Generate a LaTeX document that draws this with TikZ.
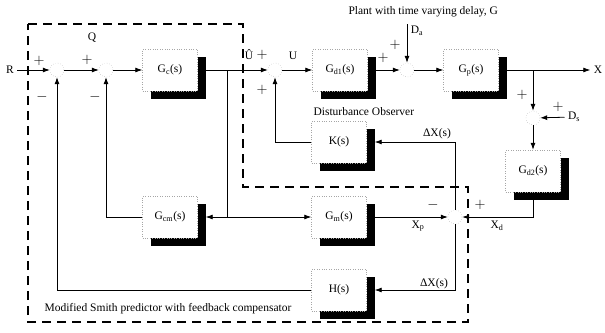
\documentclass[tikz,border=0pt]{standalone}
\usepackage{fontspec}
\setmainfont{Liberation Serif}
\usepackage{tikz}
\usetikzlibrary{arrows.meta,positioning,calc,shadows}

\begin{document}
\begin{tikzpicture}[x=1pt, y=-1pt,
  font=\fontsize{11.5}{13}\selectfont,
  tfblock/.style={rectangle, draw=black!35, dotted, fill=white, minimum width=55pt, minimum height=42pt, inner sep=0pt, drop shadow={shadow xshift=8pt, shadow yshift=-8pt, fill=black, opacity=1}},
  sumpt/.style={circle, draw=black!45, dotted, minimum size=14pt, inner sep=0pt},
  sgn/.style={font=\fontsize{15}{15}\selectfont, inner sep=0pt},
  sig/.style={-{Latex[length=7pt,width=5pt]}, line width=0.8pt},
  wire/.style={line width=0.8pt},
  bound/.style={line width=1.6pt, dash pattern=on 9pt off 6pt}
]
\useasboundingbox (0,0) rectangle (605,332);

% Smith predictor boundary
\draw[bound] (28,24) -- (243,24) -- (243,187) -- (468,187) -- (468,322) -- (28,322) -- cycle;

% Forward path
\node (rin) at (10,70) {R};
\node[sumpt] (s1) at (57,70) {};
\node[sumpt] (s2) at (106,70) {};
\node[tfblock] (gc) at (170,70) {G\textsubscript{c}(s)};
\node[sumpt] (s3) at (275,70) {};
\node[tfblock] (gd1) at (340,70) {G\textsubscript{d1}(s)};
\node[sumpt] (s4) at (407,70) {};
\node[tfblock] (gp) at (471,70) {G\textsubscript{p}(s)};
\node (xout) at (598,70) {X};

% Predictor, observer and compensator blocks
\node[tfblock] (k) at (339,142) {K(s)};
\node[tfblock] (gcm) at (170,217) {G\textsubscript{cm}(s)};
\node[tfblock] (gm) at (339,217) {G\textsubscript{m}(s)};
\node[tfblock] (h) at (339,290) {H(s)};
\node[sumpt] (s5) at (533,118) {};
\node[tfblock] (gd2) at (533,171) {G\textsubscript{d2}(s)};
\node[sumpt] (s6) at (455,217) {};

% Disturbances
\node (da) at (417,31) {D\textsubscript{a}};
\coordinate (datop) at (407,24);
\node (ds) at (574,117) {D\textsubscript{s}};

% Branch points
\coordinate (ju) at (227,70);
\coordinate (jm) at (227,217);
\coordinate (jx) at (533,70);

% Connections
\draw[sig] (rin) -- (s1);
\draw[sig] (s1) -- (s2);
\draw[sig] (s2) -- (gc);
\draw[sig] (gc) -- (s3);
\draw[sig] (s3) -- (gd1);
\draw[sig] (gd1) -- (s4);
\draw[sig] (datop) -- (s4);
\draw[sig] (s4) -- (gp);
\draw[sig] (gp) -- (xout);
\draw[sig] (jx) -- (s5);
\draw[sig] (ds) -- (s5);
\draw[sig] (s5) -- (gd2);
\draw[sig] (gd2.south) |- (s6.east);
\draw[wire] (ju) -- (jm);
\draw[sig, shorten >=8pt] (jm) -- (gcm.east);
\draw[sig] (jm) -- (gm.west);
\draw[sig] (gcm.west) -| (s2.south);
\draw[sig] (gm.east) -- (s6.west);
\draw[sig, shorten >=8pt] (s6.north) |- (k.east);
\draw[sig, shorten >=8pt] (s6.south) |- (h.east);
\draw[sig] (k.west) -| (s3.south);
\draw[sig] (h.west) -| (s1.south);

% Signs
\node[sgn] at (39,61) {$+$};
\node[sgn] at (42,97) {$-$};
\node[sgn] at (87,60) {$+$};
\node[sgn] at (95,97) {$-$};
\node[sgn] at (262,55) {$+$};
\node[sgn] at (262,90) {$+$};
\node[sgn] at (383,58) {$+$};
\node[sgn] at (395,45) {$+$};
\node[sgn] at (522,95) {$+$};
\node[sgn] at (558,107) {$+$};
\node[sgn] at (433,205) {$-$};
\node[sgn] at (480,205) {$+$};

% Signal labels
\node at (92,38) {Q};
\node at (249,55) {Û};
\node at (293,56) {U};
\node at (437,134) {ΔX(s)};
\node at (434,284) {ΔX(s)};
\node at (418,226) {X\textsubscript{p}};
\node at (497,226) {X\textsubscript{d}};

% Titles
\node[anchor=west] at (345,12) {Plant with time varying delay, G};
\node[anchor=west] at (310,112) {Disturbance Observer};
\node[anchor=west] at (41,309) {Modified Smith predictor with feedback compensator};

\end{tikzpicture}
\end{document}
